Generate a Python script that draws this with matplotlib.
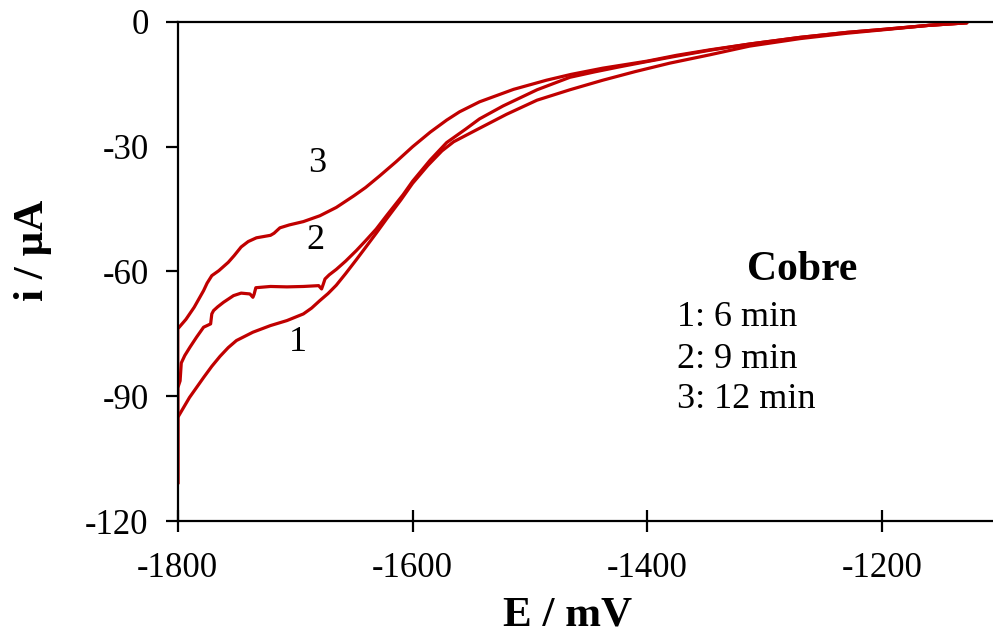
import matplotlib
matplotlib.use("Agg")
import matplotlib.pyplot as plt

# Curve 1 (6 min)
e1 = [-1128, -1160, -1200, -1230, -1270, -1313, -1347, -1381, -1410, -1438, -1466,
      -1494, -1520, -1546, -1565, -1575, -1587, -1600, -1610, -1622, -1631, -1640,
      -1648, -1657, -1665, -1672, -1679, -1686, -1693, -1707, -1721, -1736, -1750,
      -1757, -1764, -1771, -1778, -1784, -1790, -1795, -1800, -1800]
i1 = [-0.2, -0.8, -1.9, -2.7, -4.0, -5.8, -7.9, -9.9, -11.9, -14.0, -16.3,
      -18.8, -22.2, -26.0, -28.8, -31.0, -34.5, -38.8, -42.8, -47.3, -50.8, -54.2,
      -57.2, -60.5, -63.3, -65.3, -67.0, -68.8, -70.2, -71.8, -73.0, -74.6, -76.6,
      -78.3, -80.4, -82.8, -85.5, -87.9, -90.3, -92.7, -95.1, -111.0]

# Curve 2 (9 min)
e2 = [-1128, -1160, -1200, -1230, -1270, -1313, -1347, -1375, -1400, -1424, -1445,
      -1466, -1494, -1523, -1543, -1555, -1571, -1585, -1600, -1608, -1615, -1622,
      -1631, -1640, -1648, -1657, -1665, -1671, -1674.6, -1676, -1677.5, -1680,
      -1693, -1707, -1721, -1733.5, -1735, -1736, -1738.5, -1746, -1752.5, -1761,
      -1766, -1769.5, -1771, -1772, -1778, -1784, -1789.6, -1794, -1797, -1798,
      -1800, -1800]
i2 = [-0.2, -0.8, -1.8, -2.5, -3.7, -5.3, -6.8, -8.2, -9.5, -10.8, -12.0,
      -13.3, -16.3, -20.2, -23.3, -25.8, -29.0, -33.2, -38.3, -41.5, -44.0, -46.5,
      -49.8, -52.6, -55.0, -57.5, -59.5, -60.8, -61.8, -63.0, -64.2, -63.4,
      -63.6, -63.7, -63.6, -63.9, -65.5, -66.2, -65.4, -65.2, -65.8, -67.4,
      -68.5, -69.4, -70.2, -72.6, -73.4, -75.8, -78.2, -80.2, -82.0, -86.3,
      -88.0, -111.0]

# Curve 3 (12 min)
e3 = [-1128, -1160, -1200, -1230, -1270, -1313, -1347, -1375, -1400, -1438, -1465,
      -1486, -1514, -1543, -1560, -1571, -1585, -1600, -1614, -1628, -1640, -1650,
      -1665, -1679, -1693, -1705, -1713, -1718, -1721, -1733, -1740, -1746, -1752,
      -1757, -1765, -1771, -1775, -1778, -1786, -1793, -1800, -1800]
i3 = [-0.2, -0.8, -1.8, -2.5, -3.7, -5.3, -6.7, -8.0, -9.4, -11.1, -12.6,
      -14.0, -16.2, -19.2, -21.6, -23.6, -26.5, -30.0, -33.6, -37.0, -39.8, -41.8,
      -44.6, -46.6, -48.0, -48.8, -49.5, -50.8, -51.3, -51.9, -52.8, -54.1, -56.2,
      -57.8, -59.8, -61.0, -62.8, -64.6, -68.6, -71.5, -73.8, -111.0]

curve_labels = ["1", "2", "3"]
curve_label_pos = [(-1698, -77), (-1683, -52.5), (-1681, -34)]
legend_title = "Cobre"
legend_lines = ["1: 6 min", "2: 9 min", "3: 12 min"]

x_ticks = [-1800, -1600, -1400, -1200]
y_ticks = [0, -30, -60, -90, -120]

plt.rcParams['font.family'] = ['Liberation Serif', 'DejaVu Serif']

fig = plt.figure(figsize=(9.93, 6.41), dpi=100)
ax = fig.add_axes([0.179, 0.1872, 0.821, 0.7785])

color = "#C00000"
for e, i in [(e1, i1), (e2, i2), (e3, i3)]:
    ax.plot(e, i, color=color, lw=2.3, solid_joinstyle='round', solid_capstyle='round')

ax.set_xlim(-1800, -1105.7)
ax.set_ylim(-120, 0)
ax.set_xticks(x_ticks)
ax.set_yticks(y_ticks)
ax.set_xticklabels([str(v) for v in x_ticks])
ax.set_yticklabels([str(v) for v in y_ticks])

ax.spines['right'].set_visible(False)
for s in ['left', 'bottom', 'top']:
    ax.spines[s].set_linewidth(1.6)
ax.tick_params(axis='x', direction='inout', length=16, width=1.6, labelsize=25, pad=14, top=False)
ax.tick_params(axis='y', direction='out', length=9, width=1.6, labelsize=25, pad=12)

fig.text(568 / 993, 1 - 616 / 641, "E / mV", fontsize=31, fontweight='bold',
         ha='center', va='center')
fig.text(33 / 993, 1 - 250 / 641, "i / µA", fontsize=31, fontweight='bold',
         ha='center', va='center', rotation=90)

for lab, (x, y) in zip(curve_labels, curve_label_pos):
    ax.text(x, y, lab, fontsize=26, ha='center', va='center')

fig.text(802 / 993, 1 - 270 / 641, legend_title,
         fontsize=30, fontweight='bold', ha='center', va='center')
for k, t in enumerate(legend_lines):
    fig.text(677 / 993, 1 - (318 + 41 * k) / 641, t,
             fontsize=26, ha='left', va='center')

fig.savefig("out.png", dpi=100)
